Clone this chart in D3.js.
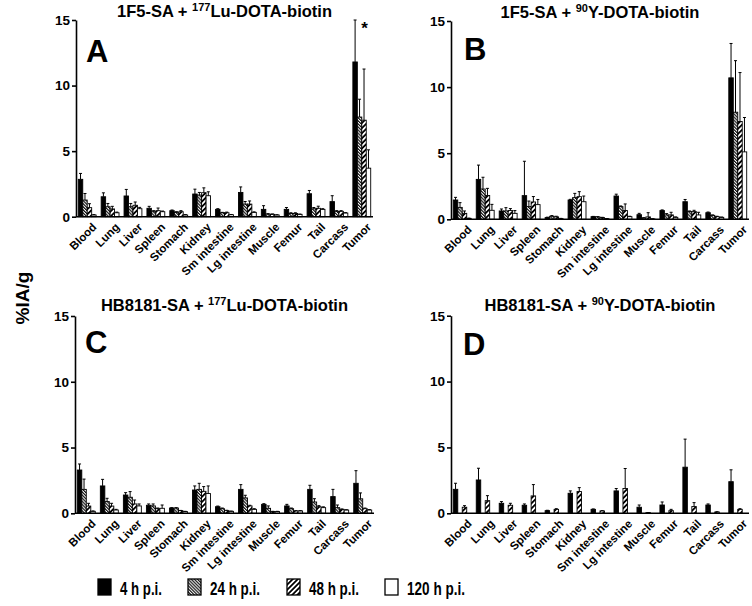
<!DOCTYPE html>
<html><head><meta charset="utf-8">
<script src="https://cdn.jsdelivr.net/npm/d3@7"></script>
<style>
body{margin:0;background:#fff;}
svg{display:block;font-family:"Liberation Sans",Arial,sans-serif;}
</style></head>
<body><svg id="chart" width="752" height="606"></svg>
<script>
const categories = ["Blood","Lung","Liver","Spleen","Stomach","Kidney","Sm intestine","Lg intestine","Muscle","Femur","Tail","Carcass","Tumor"];
const seriesLabels = ["4 h p.i.","24 h p.i.","48 h p.i.","120 h p.i."];
const yTicks = [0,5,10,15];

// Panel A: 1F5-SA + 177Lu-DOTA-biotin  (rows: 4h, 24h, 48h, 120h)
const meanA = [
  [2.85,1.52,1.58,0.64,0.46,1.73,0.56,1.85,0.56,0.56,1.75,1.15,11.8],
  [1.27,0.76,0.76,0.38,0.33,1.65,0.30,0.96,0.20,0.25,0.60,0.41,7.6],
  [0.69,0.59,0.87,0.46,0.38,1.83,0.30,0.96,0.18,0.25,0.64,0.41,7.36],
  [0.13,0.30,0.61,0.38,0.13,1.60,0.15,0.33,0.13,0.18,0.56,0.28,3.7]
];
const sdA = [
  [0.45,0.30,0.50,0.15,0.05,0.37,0.05,0.42,0.28,0.14,0.25,0.45,3.2],
  [0.50,0.25,0.25,0.08,0.05,0.20,0.03,0.20,0.03,0.05,0.10,0.05,1.36],
  [0.30,0.20,0.25,0.20,0.08,0.37,0.05,0.24,0.03,0.05,0.16,0.05,3.9],
  [0.03,0.05,0.10,0.05,0.03,0.30,0.02,0.04,0.02,0.02,0.05,0.03,1.4]
];
// Panel B: 1F5-SA + 90Y-DOTA-biotin
const meanB = [
  [1.46,3.02,0.63,1.79,0.13,1.46,0.20,1.76,0.35,0.66,1.33,0.50,10.7],
  [0.90,2.29,0.63,0.96,0.23,1.64,0.18,0.96,0.10,0.33,0.58,0.30,8.1],
  [0.45,1.80,0.66,1.31,0.18,1.71,0.13,0.66,0.18,0.33,0.58,0.20,7.4],
  [0.07,0.68,0.45,1.11,0.05,1.33,0.05,0.20,0.03,0.15,0.33,0.15,5.1]
];
const sdB = [
  [0.20,1.08,0.15,2.60,0.03,0.05,0.02,0.14,0.10,0.05,0.17,0.05,2.6],
  [0.36,0.89,0.25,0.42,0.05,0.32,0.02,0.05,0.02,0.10,0.05,0.03,3.9],
  [0.18,0.54,0.15,0.41,0.05,0.38,0.02,0.50,0.32,0.20,0.10,0.03,3.7],
  [0.02,0.45,0.21,0.39,0.02,0.43,0.01,0.03,0.01,0.03,0.20,0.02,2.6]
];
// Panel C: HB8181-SA + 177Lu-DOTA-biotin
const meanC = [
  [3.29,2.08,1.39,0.61,0.40,1.77,0.50,1.82,0.68,0.56,1.82,1.27,2.28],
  [1.82,0.89,1.22,0.56,0.40,1.82,0.35,1.17,0.38,0.35,0.86,0.43,1.10],
  [0.55,0.55,0.71,0.35,0.20,1.67,0.20,0.56,0.13,0.18,0.50,0.30,0.35],
  [0.15,0.25,0.56,0.38,0.13,1.50,0.15,0.30,0.13,0.18,0.43,0.25,0.25]
];
const sdC = [
  [0.46,0.50,0.18,0.10,0.03,0.31,0.05,0.36,0.05,0.12,0.31,0.55,0.96],
  [0.78,0.25,0.43,0.15,0.03,0.46,0.05,0.20,0.18,0.05,0.25,0.20,0.45],
  [0.21,0.21,0.30,0.05,0.02,0.36,0.03,0.05,0.02,0.02,0.08,0.03,0.05],
  [0.03,0.05,0.15,0.25,0.02,0.58,0.02,0.05,0.02,0.02,0.06,0.02,0.03]
];
// Panel D: HB8181-SA + 90Y-DOTA-biotin (no 24 h / 120 h groups)
const meanD = [
  [1.82,2.53,0.76,0.61,0.20,1.52,0.30,1.70,0.46,0.63,3.50,0.63,2.40],
  null,
  [0.46,0.96,0.61,1.32,0.30,1.65,0.18,1.88,0.05,0.20,0.51,0.10,0.30],
  null
];
const sdD = [
  [0.46,0.89,0.13,0.10,0.03,0.18,0.03,0.18,0.17,0.23,2.13,0.08,0.90],
  null,
  [0.12,0.38,0.15,0.86,0.05,0.30,0.02,1.52,0.01,0.10,0.30,0.02,0.05],
  null
];

const svg = d3.select("#chart");
const defs = svg.append("defs");
// patterns
const p24 = defs.append("pattern").attr("id","p24").attr("patternUnits","userSpaceOnUse")
  .attr("width",2.2).attr("height",8).attr("patternTransform","rotate(-45)");
p24.append("rect").attr("width",2.2).attr("height",8).attr("fill","#fff");
p24.append("line").attr("x1",0.6).attr("y1",0).attr("x2",0.6).attr("y2",8).attr("stroke","#000").attr("stroke-width",1.1);
const p48 = defs.append("pattern").attr("id","p48").attr("patternUnits","userSpaceOnUse")
  .attr("width",3.6).attr("height",8).attr("patternTransform","rotate(45)");
p48.append("rect").attr("width",3.6).attr("height",8).attr("fill","#fff");
p48.append("line").attr("x1",0.9).attr("y1",0).attr("x2",0.9).attr("y2",8).attr("stroke","#000").attr("stroke-width",1.8);
const fills = ["#000","url(#p24)","url(#p48)","#fff"];

const panels = [
  {mean:meanA, sd:sdA, x0:76, w:297, yz:216.7, yt:20, letter:"A", lx:86, ly:62,
   title:["1F5-SA + ","177","Lu-DOTA-biotin"], ty:17, star:true},
  {mean:meanB, sd:sdB, x0:451, w:298, yz:219.3, yt:21, letter:"B", lx:464, ly:60,
   title:["1F5-SA + ","90","Y-DOTA-biotin"], ty:18},
  {mean:meanC, sd:sdC, x0:75, w:299, yz:513.3, yt:316, letter:"C", lx:85, ly:353,
   title:["HB8181-SA + ","177","Lu-DOTA-biotin"], ty:311},
  {mean:meanD, sd:sdD, x0:451, w:298, yz:513.3, yt:315.7, letter:"D", lx:463, ly:355,
   title:["HB8181-SA + ","90","Y-DOTA-biotin"], ty:311}
];

panels.forEach(p => {
  const g = svg.append("g");
  const x = d3.scaleBand().domain(categories).range([p.x0, p.x0+p.w]).paddingInner(0.22).paddingOuter(0.1);
  const xs = d3.scaleBand().domain(d3.range(4)).range([0, x.bandwidth()]).padding(0);
  const y = d3.scaleLinear().domain([0,15]).range([p.yz, p.yt]);

  // bars
  p.mean.forEach((vals, si) => {
    if (!vals) return;
    const sds = p.sd[si];
    const sg = g.append("g");
    sg.selectAll("rect").data(vals).join("rect")
      .attr("x",(d,i)=>x(categories[i])+xs(si))
      .attr("y",d=>y(d))
      .attr("width",xs.bandwidth())
      .attr("height",d=>y(0)-y(d))
      .attr("fill",fills[si]).attr("stroke","#000").attr("stroke-width",0.9);
    const eb = sg.selectAll("g.eb").data(vals).join("g").attr("class","eb");
    eb.append("line")
      .attr("x1",(d,i)=>x(categories[i])+xs(si)+xs.bandwidth()/2)
      .attr("x2",(d,i)=>x(categories[i])+xs(si)+xs.bandwidth()/2)
      .attr("y1",d=>y(d)).attr("y2",(d,i)=>y(d+sds[i]))
      .attr("stroke","#000").attr("stroke-width",1);
    eb.append("line")
      .attr("x1",(d,i)=>x(categories[i])+xs(si)+xs.bandwidth()/2-1.5)
      .attr("x2",(d,i)=>x(categories[i])+xs(si)+xs.bandwidth()/2+1.5)
      .attr("y1",(d,i)=>y(d+sds[i])).attr("y2",(d,i)=>y(d+sds[i]))
      .attr("stroke","#000").attr("stroke-width",1);
  });

  // y axis
  const ya = g.append("g").attr("transform",`translate(${p.x0},0)`)
    .call(d3.axisLeft(y).tickValues(yTicks).tickSize(4).tickSizeOuter(0).tickPadding(2));
  ya.select(".domain").attr("stroke-width",1.6);
  ya.selectAll(".tick line").attr("stroke-width",1.6);
  ya.selectAll("text").attr("font-size",13.5).attr("font-weight","bold").attr("fill","#000")
    .attr("font-family","Liberation Sans, Arial, sans-serif");

  // x axis
  const xa = g.append("g").attr("transform",`translate(0,${p.yz})`)
    .call(d3.axisBottom(x).tickSize(0).tickSizeOuter(0));
  xa.select(".domain").attr("stroke-width",1.6).attr("d",`M${p.x0},0H${p.x0+p.w}`);
  xa.selectAll(".tick text")
    .attr("font-size",11.5).attr("font-weight","bold").attr("fill","#000")
    .attr("font-family","Liberation Sans, Arial, sans-serif")
    .attr("text-anchor","end")
    .attr("transform","translate(4,5) rotate(-45)")
    .attr("dy","0.75em").attr("y",0).attr("x",0);

  // title
  const t = g.append("text").attr("x",p.x0+p.w/2).attr("y",p.ty).attr("text-anchor","middle")
    .attr("font-size",16.5).attr("font-weight","bold");
  t.append("tspan").text(p.title[0]);
  t.append("tspan").text(p.title[1]).attr("font-size",11).attr("dy",-6);
  t.append("tspan").text(p.title[2]).attr("dy",6);

  // letter
  g.append("text").attr("x",p.lx).attr("y",p.ly).attr("font-size",31).attr("font-weight","bold").text(p.letter);

  if (p.star) {
    g.append("text").attr("x",x("Tumor")+x.bandwidth()*0.65).attr("y",p.yt+14)
      .attr("text-anchor","middle").attr("font-size",17).attr("font-weight","bold").text("*");
  }
});

// y-axis label
svg.append("text").attr("transform","translate(29,298) rotate(-90)").attr("text-anchor","middle")
  .attr("font-size",19).attr("font-weight","bold").text("%IA/g");

// legend
const legX = [98, 188, 287, 385];
const leg = svg.append("g");
seriesLabels.forEach((lab,i) => {
  leg.append("rect").attr("x",legX[i]).attr("y",579).attr("width",13).attr("height",16)
    .attr("fill",fills[i]).attr("stroke","#000").attr("stroke-width",1.3);
  leg.append("text").attr("x",legX[i]+22).attr("y",595).attr("font-size",18).attr("font-weight","bold")
    .attr("textLength",[42,50,50,58][i]).attr("lengthAdjust","spacingAndGlyphs").text(lab);
});
</script></body></html>
